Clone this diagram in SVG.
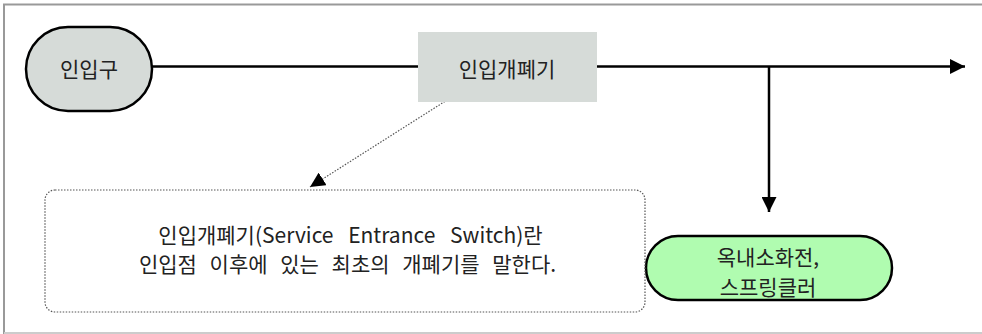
<svg xmlns="http://www.w3.org/2000/svg" width="982" height="334" viewBox="0 0 982 334">
<style>
.t{font-family:"Noto Sans CJK KR","Noto Sans",sans-serif;fill:#222;text-anchor:middle;font-size:21px}
.ln{stroke:#000;stroke-width:2.5;fill:none}
</style>
<defs>
<marker id="ah" markerWidth="15" markerHeight="15" refX="15" refY="7.5" orient="auto" markerUnits="userSpaceOnUse">
<path d="M0,0 L15,7.5 L0,15 Z" fill="#000"/>
</marker>
</defs>
<rect x="0" y="0" width="982" height="334" fill="#fff"/>
<g id="frame">
<line x1="3" y1="4.5" x2="982" y2="4.5" stroke="#999" stroke-width="2"/>
<line x1="4" y1="4" x2="4" y2="334" stroke="#999" stroke-width="2"/>
<line x1="4" y1="333" x2="982" y2="333" stroke="#ccc" stroke-width="2"/>
</g>
<g id="connectors">
<line class="ln" x1="152" y1="66.5" x2="418" y2="66.5"/>
<line class="ln" x1="597" y1="66.5" x2="965" y2="66.5" marker-end="url(#ah)"/>
<line class="ln" x1="769" y1="66.5" x2="769" y2="212" marker-end="url(#ah)"/>
<line x1="455" y1="95" x2="310" y2="187" stroke="#555" stroke-width="1.2" stroke-dasharray="1.5,1.5" marker-end="url(#ah)"/>
</g>
<g id="n1">
<rect x="26" y="27" width="126" height="84" rx="42" fill="#d6dbd8" stroke="#000" stroke-width="2.5"/>
<text class="t" x="89" y="77">인입구</text>
</g>
<g id="n2">
<rect x="418" y="32" width="179" height="70" fill="#d6dbd8"/>
<text class="t" x="507" y="77">인입개폐기</text>
</g>
<g id="n3">
<rect x="646" y="236" width="246" height="64" rx="32" fill="#b0fcb0" stroke="#000" stroke-width="2.5"/>
<text class="t" x="768" y="265">옥내소화전,</text>
<text class="t" x="768" y="295">스프링클러</text>
</g>
<g id="note">
<rect x="45" y="190" width="600" height="122" rx="10" fill="none" stroke="#555" stroke-width="1.2" stroke-dasharray="1.5,1.5"/>
<text class="t" x="350.5" y="243" word-spacing="10">인입개폐기(Service Entrance Switch)란</text>
<text class="t" x="347.5" y="272" word-spacing="8">인입점 이후에 있는 최초의 개폐기를 말한다.</text>
</g>
</svg>
